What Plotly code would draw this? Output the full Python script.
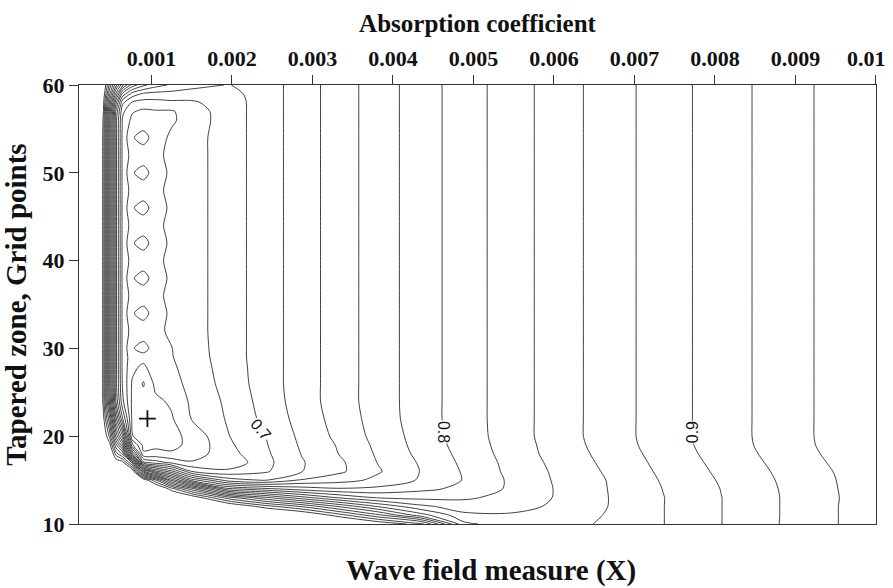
import plotly.graph_objects as go

# Absorption coefficient at each grid column
ABSORPTION = [0.00010, 0.00030, 0.00040, 0.00048, 0.00056, 0.00064, 0.00076, 0.00090,
              0.00105, 0.00125, 0.00150, 0.00195, 0.00241, 0.00287, 0.00333, 0.00382,
              0.00434, 0.00488, 0.00546, 0.00605, 0.00668, 0.00736, 0.00808, 0.00884,
              0.00962, 0.01000]

# Tapered zone width (grid points) at each grid row
GRID_POINTS = [10, 11, 12, 13, 14, 15, 16, 17, 18, 19, 20, 22, 24, 26, 28, 29, 30,
               32, 34, 36, 38, 40, 42, 44, 46, 48, 50, 52, 54, 56, 57, 58, 59, 60]

# Wave field measure X, one row per tapered-zone width
WAVE_MEASURE = [
    [1.15, 1.12, 1.10, 1.09, 1.09, 1.09, 1.09, 1.09, 1.09, 1.09, 1.09, 1.09, 1.09, 1.08, 1.05, 1.02, 0.99, 0.865, 0.849, 0.851, 0.864, 0.8797, 0.8998, 0.9212, 0.9424, 0.951],
    [1.15, 1.12, 1.10, 1.09, 1.09, 1.09, 1.09, 1.09, 1.09, 1.08, 1.08, 1.07, 1.05, 1.03, 0.99, 0.945, 0.89, 0.845, 0.842, 0.846, 0.862, 0.8797, 0.8998, 0.921, 0.9424, 0.950],
    [1.15, 1.12, 1.10, 1.09, 1.09, 1.09, 1.09, 1.08, 1.08, 1.07, 1.06, 1.03, 0.99, 0.958, 0.918, 0.878, 0.845, 0.830, 0.834, 0.843, 0.8603, 0.8797, 0.8998, 0.921, 0.9424, 0.950],
    [1.15, 1.12, 1.10, 1.09, 1.09, 1.08, 1.08, 1.08, 1.07, 1.04, 1.02, 0.95, 0.905, 0.868, 0.838, 0.818, 0.815, 0.817, 0.826, 0.842, 0.8601, 0.8796, 0.8998, 0.921, 0.942, 0.950],
    [1.15, 1.12, 1.10, 1.09, 1.08, 1.08, 1.08, 1.06, 1.04, 0.99, 0.93, 0.825, 0.805, 0.79, 0.782, 0.785, 0.795, 0.805, 0.823, 0.842, 0.8605, 0.8805, 0.9005, 0.9215, 0.9425, 0.950],
    [1.15, 1.12, 1.09, 1.08, 1.08, 1.07, 1.06, 1.02, 0.965, 0.875, 0.79, 0.73, 0.718, 0.742, 0.752, 0.765, 0.782, 0.801, 0.823, 0.843, 0.861, 0.882, 0.902, 0.9225, 0.943, 0.951],
    [1.14, 1.11, 1.08, 1.08, 1.05, 1.05, 1.02, 0.865, 0.805, 0.765, 0.699, 0.685, 0.697, 0.7195, 0.736, 0.758, 0.7805, 0.802, 0.825, 0.844, 0.863, 0.884, 0.904, 0.924, 0.944, 0.952],
    [1.14, 1.11, 1.08, 1.06, 1.02, 1.01, 0.935, 0.705, 0.69, 0.675, 0.662, 0.664, 0.694, 0.7185, 0.736, 0.761, 0.782, 0.804, 0.826, 0.846, 0.865, 0.886, 0.906, 0.926, 0.946, 0.954],
    [1.14, 1.10, 1.06, 1.04, 0.97, 0.935, 0.765, 0.643, 0.645, 0.642, 0.650, 0.672, 0.696, 0.721, 0.7405, 0.763, 0.785, 0.806, 0.828, 0.848, 0.867, 0.888, 0.908, 0.928, 0.948, 0.956],
    [1.13, 1.09, 1.05, 1.01, 0.925, 0.865, 0.685, 0.634, 0.636, 0.636, 0.644, 0.676, 0.698, 0.723, 0.742, 0.765, 0.787, 0.808, 0.829, 0.849, 0.869, 0.8895, 0.9095, 0.9295, 0.9495, 0.9575],
    [1.12, 1.08, 1.03, 0.975, 0.875, 0.805, 0.641, 0.630, 0.632, 0.634, 0.646, 0.679, 0.6995, 0.725, 0.745, 0.767, 0.788, 0.809, 0.83, 0.85, 0.87, 0.89, 0.91, 0.93, 0.95, 0.958],
    [1.12, 1.08, 1.01, 0.925, 0.805, 0.722, 0.636, 0.626, 0.630, 0.638, 0.661, 0.682, 0.705, 0.728, 0.748, 0.769, 0.79, 0.81, 0.83, 0.85, 0.87, 0.89, 0.91, 0.93, 0.95, 0.958],
    [1.12, 1.08, 0.995, 0.875, 0.755, 0.685, 0.636, 0.628, 0.636, 0.643, 0.664, 0.684, 0.708, 0.73, 0.75, 0.77, 0.79, 0.81, 0.83, 0.85, 0.87, 0.89, 0.91, 0.93, 0.95, 0.958],
    [1.12, 1.08, 0.995, 0.865, 0.745, 0.678, 0.638, 0.618, 0.645, 0.652, 0.667, 0.687, 0.71, 0.73, 0.75, 0.77, 0.79, 0.81, 0.83, 0.85, 0.87, 0.89, 0.91, 0.93, 0.95, 0.958],
    [1.12, 1.08, 0.995, 0.865, 0.745, 0.675, 0.645, 0.637, 0.652, 0.657, 0.669, 0.689, 0.71, 0.73, 0.75, 0.77, 0.79, 0.81, 0.83, 0.85, 0.87, 0.89, 0.91, 0.93, 0.95, 0.958],
    [1.12, 1.08, 0.995, 0.865, 0.745, 0.675, 0.648, 0.648, 0.655, 0.659, 0.670, 0.69, 0.71, 0.73, 0.75, 0.77, 0.79, 0.81, 0.83, 0.85, 0.87, 0.89, 0.91, 0.93, 0.95, 0.958],
    [1.12, 1.08, 0.995, 0.865, 0.745, 0.675, 0.642, 0.632, 0.650, 0.6595, 0.671, 0.69, 0.71, 0.73, 0.75, 0.77, 0.79, 0.81, 0.83, 0.85, 0.87, 0.89, 0.91, 0.93, 0.95, 0.958],
    [1.12, 1.08, 0.995, 0.865, 0.745, 0.675, 0.652, 0.652, 0.656, 0.663, 0.672, 0.69, 0.71, 0.73, 0.75, 0.77, 0.79, 0.81, 0.83, 0.85, 0.87, 0.89, 0.91, 0.93, 0.95, 0.958],
    [1.12, 1.08, 0.995, 0.865, 0.745, 0.675, 0.642, 0.632, 0.650, 0.664, 0.672, 0.69, 0.71, 0.73, 0.75, 0.77, 0.79, 0.81, 0.83, 0.85, 0.87, 0.89, 0.91, 0.93, 0.95, 0.958],
    [1.12, 1.08, 0.995, 0.865, 0.745, 0.675, 0.652, 0.652, 0.656, 0.664, 0.672, 0.69, 0.71, 0.73, 0.75, 0.77, 0.79, 0.81, 0.83, 0.85, 0.87, 0.89, 0.91, 0.93, 0.95, 0.958],
    [1.12, 1.08, 0.995, 0.865, 0.745, 0.675, 0.642, 0.632, 0.650, 0.664, 0.672, 0.69, 0.71, 0.73, 0.75, 0.77, 0.79, 0.81, 0.83, 0.85, 0.87, 0.89, 0.91, 0.93, 0.95, 0.958],
    [1.12, 1.08, 0.995, 0.865, 0.745, 0.675, 0.652, 0.652, 0.656, 0.664, 0.672, 0.69, 0.71, 0.73, 0.75, 0.77, 0.79, 0.81, 0.83, 0.85, 0.87, 0.89, 0.91, 0.93, 0.95, 0.958],
    [1.12, 1.08, 0.995, 0.865, 0.745, 0.675, 0.642, 0.632, 0.650, 0.664, 0.672, 0.69, 0.71, 0.73, 0.75, 0.77, 0.79, 0.81, 0.83, 0.85, 0.87, 0.89, 0.91, 0.93, 0.95, 0.958],
    [1.12, 1.08, 0.995, 0.865, 0.745, 0.675, 0.652, 0.652, 0.656, 0.664, 0.672, 0.69, 0.71, 0.73, 0.75, 0.77, 0.79, 0.81, 0.83, 0.85, 0.87, 0.89, 0.91, 0.93, 0.95, 0.958],
    [1.12, 1.08, 0.995, 0.865, 0.745, 0.675, 0.642, 0.632, 0.650, 0.664, 0.672, 0.69, 0.71, 0.73, 0.75, 0.77, 0.79, 0.81, 0.83, 0.85, 0.87, 0.89, 0.91, 0.93, 0.95, 0.958],
    [1.12, 1.08, 0.995, 0.865, 0.745, 0.675, 0.652, 0.652, 0.656, 0.664, 0.672, 0.69, 0.71, 0.73, 0.75, 0.77, 0.79, 0.81, 0.83, 0.85, 0.87, 0.89, 0.91, 0.93, 0.95, 0.958],
    [1.12, 1.08, 0.995, 0.865, 0.745, 0.675, 0.642, 0.632, 0.650, 0.664, 0.672, 0.69, 0.71, 0.73, 0.75, 0.77, 0.79, 0.81, 0.83, 0.85, 0.87, 0.89, 0.91, 0.93, 0.95, 0.958],
    [1.12, 1.08, 0.995, 0.865, 0.745, 0.675, 0.652, 0.652, 0.656, 0.664, 0.672, 0.69, 0.71, 0.73, 0.75, 0.77, 0.79, 0.81, 0.83, 0.85, 0.87, 0.89, 0.91, 0.93, 0.95, 0.958],
    [1.12, 1.08, 0.995, 0.865, 0.745, 0.675, 0.642, 0.632, 0.650, 0.664, 0.672, 0.69, 0.71, 0.73, 0.75, 0.77, 0.79, 0.81, 0.83, 0.85, 0.87, 0.89, 0.91, 0.93, 0.95, 0.958],
    [1.12, 1.08, 0.998, 0.865, 0.745, 0.678, 0.655, 0.652, 0.656, 0.657, 0.669, 0.69, 0.71, 0.73, 0.75, 0.77, 0.79, 0.81, 0.83, 0.85, 0.87, 0.89, 0.91, 0.93, 0.95, 0.958],
    [1.12, 1.08, 1.005, 0.875, 0.755, 0.685, 0.662, 0.656, 0.658, 0.658, 0.670, 0.69, 0.71, 0.73, 0.75, 0.77, 0.79, 0.81, 0.83, 0.85, 0.87, 0.89, 0.91, 0.93, 0.95, 0.958],
    [1.12, 1.08, 1.01, 0.895, 0.785, 0.705, 0.678, 0.672, 0.673, 0.676, 0.677, 0.69, 0.71, 0.73, 0.75, 0.77, 0.79, 0.81, 0.83, 0.85, 0.87, 0.89, 0.91, 0.93, 0.95, 0.958],
    [1.12, 1.08, 1.02, 0.925, 0.835, 0.755, 0.712, 0.697, 0.694, 0.693, 0.69, 0.693, 0.71, 0.73, 0.75, 0.77, 0.79, 0.81, 0.83, 0.85, 0.87, 0.89, 0.91, 0.93, 0.95, 0.958],
    [1.12, 1.08, 1.03, 0.955, 0.885, 0.825, 0.772, 0.745, 0.728, 0.717, 0.708, 0.699, 0.71, 0.73, 0.75, 0.77, 0.79, 0.81, 0.83, 0.85, 0.87, 0.89, 0.91, 0.93, 0.95, 0.958],
]

# Contour levels and the ones carrying a printed value
LEVEL_START, LEVEL_END, LEVEL_STEP = 0.62, 1.00, 0.02
LABELLED_LEVELS = [0.7, 0.8, 0.9]

# Location of the smallest wave field measure
OPTIMUM_ABSORPTION = [0.00095]
OPTIMUM_GRID_POINTS = [22]

# Axis ticks
X_TICK_VALUES = [0.001, 0.002, 0.003, 0.004, 0.005, 0.006, 0.007, 0.008, 0.009, 0.01]
X_TICK_TEXT = ["0.001", "0.002", "0.003", "0.004", "0.005", "0.006", "0.007", "0.008", "0.009", "0.01"]
Y_TICK_VALUES = [10, 20, 30, 40, 50, 60]

SERIF = "Liberation Serif, Times New Roman, serif"
SANS = "Liberation Sans, Arial, sans-serif"
INK = "#111111"
TICK_FONT = dict(family=SERIF, size=22, color=INK, weight="bold")

# The last label sits on the right frame, so it is drawn separately, nudged inward
x_tick_labels = X_TICK_TEXT[:-1] + [""]

fig = go.Figure()

fig.add_trace(go.Contour(
    x=ABSORPTION,
    y=GRID_POINTS,
    z=WAVE_MEASURE,
    contours=dict(start=LEVEL_START, end=LEVEL_END, size=LEVEL_STEP,
                  coloring="none", showlabels=False),
    line=dict(color=INK, width=0.8, smoothing=0.85),
    showscale=False,
    hoverinfo="skip",
))

fig.add_trace(go.Scatter(
    x=OPTIMUM_ABSORPTION,
    y=OPTIMUM_GRID_POINTS,
    mode="markers",
    marker=dict(symbol="cross-thin", size=12, line=dict(color=INK, width=1.8)),
    showlegend=False,
    hoverinfo="skip",
))

# Value labels placed on their contour lines: (x, y, rotation)
label_places = [(0.00236, 20.8, 50), (0.00462, 20.5, 90), (0.00772, 20.5, -90)]
for level, (lx, ly, angle) in zip(LABELLED_LEVELS, label_places):
    fig.add_annotation(
        x=lx, y=ly, xref="x", yref="y",
        text=f"{level:.1f}", showarrow=False, textangle=angle,
        font=dict(family=SANS, size=16, color=INK),
        bgcolor="white", borderpad=0,
    )

# Right-most tick label of the top axis
fig.add_annotation(
    x=X_TICK_VALUES[-1], y=1, xref="x", yref="paper",
    xanchor="center", yanchor="middle", xshift=-9, yshift=27,
    text=X_TICK_TEXT[-1], showarrow=False, font=TICK_FONT,
)

# Caption under the plot area
fig.add_annotation(
    x=(491 - 79) / (876 - 79), y=-(570 - 524) / (524 - 85),
    xref="paper", yref="paper", xanchor="center", yanchor="middle",
    text="<b>Wave field measure (X)</b>", showarrow=False,
    font=dict(family=SERIF, size=29, color=INK),
)

axis_common = dict(
    showgrid=False, zeroline=False, showline=True, linecolor="#333333", linewidth=1,
    mirror=True, ticks="outside", ticklen=9, tickwidth=1, tickcolor="#333333",
    automargin=False,
)

fig.update_xaxes(
    range=[0.0001, 0.0100001], side="top",
    tickvals=X_TICK_VALUES, ticktext=x_tick_labels,
    tickfont=TICK_FONT,
    title=dict(text="Absorption coefficient", standoff=6,
               font=dict(family=SERIF, size=25, color=INK, weight="bold")),
    **axis_common,
)
fig.update_yaxes(
    range=[10, 60], tickvals=Y_TICK_VALUES,
    tickfont=TICK_FONT,
    title=dict(text="Tapered zone, Grid points", standoff=8,
               font=dict(family=SERIF, size=29, color=INK, weight="bold")),
    **axis_common,
)

fig.update_layout(
    width=893, height=588,
    margin=dict(l=79, r=17, t=85, b=64),
    paper_bgcolor="white", plot_bgcolor="white",
    showlegend=False,
)

fig.write_html("out.html")
